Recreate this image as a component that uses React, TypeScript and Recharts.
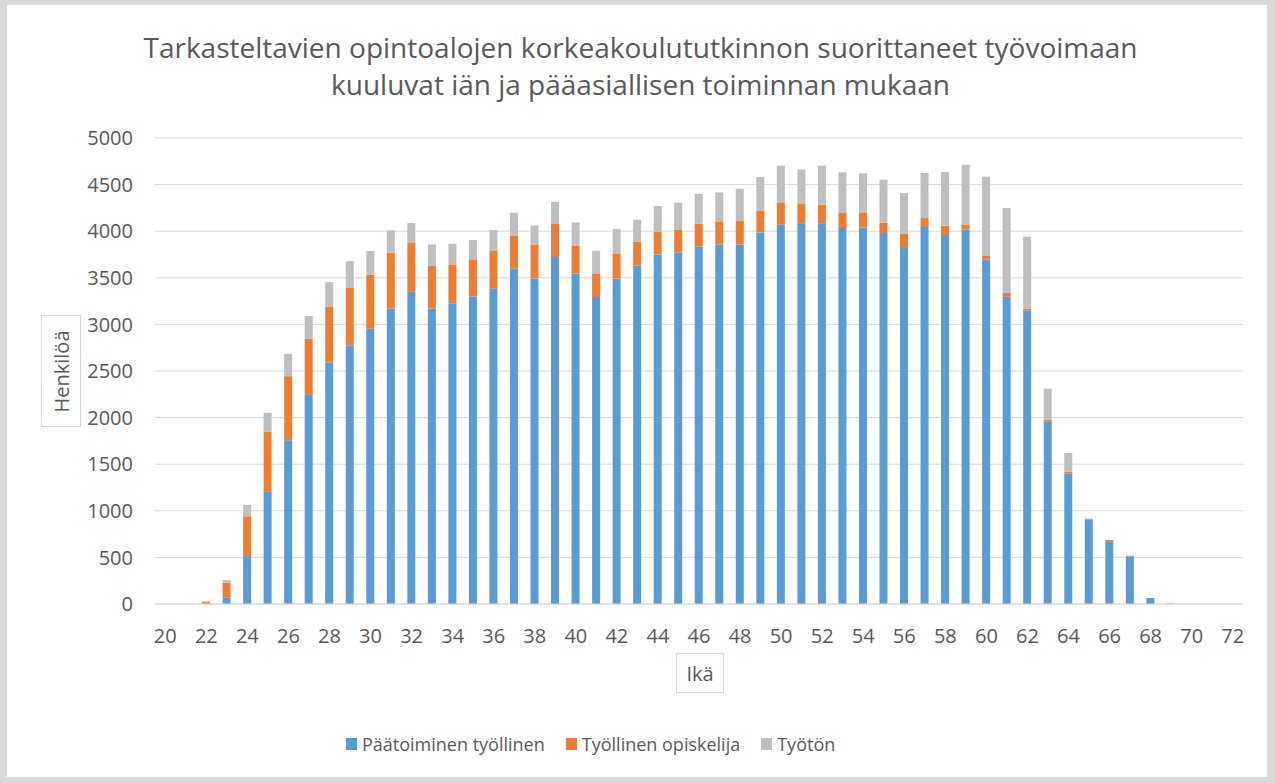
import React from "react";
import { BarChart, Bar, XAxis, YAxis, CartesianGrid } from "recharts";

const ages = [
  20, 21, 22, 23, 24, 25, 26, 27, 28, 29, 30, 31, 32, 33, 34, 35, 36, 37, 38, 39,
  40, 41, 42, 43, 44, 45, 46, 47, 48, 49, 50, 51, 52, 53, 54, 55, 56, 57, 58, 59,
  60, 61, 62, 63, 64, 65, 66, 67, 68, 69, 70, 71, 72,
];

// Päätoiminen työllinen
const fullTime = [
  0, 0, 0, 72, 515, 1203, 1757, 2244, 2591, 2777, 2953, 3171, 3350, 3171, 3228, 3300, 3382, 3600, 3493, 3722,
  3547, 3293, 3493, 3633, 3751, 3772, 3837, 3858, 3858, 3987, 4069, 4084, 4084, 4034, 4041, 3980, 3830, 4044, 3958, 4019,
  3697, 3296, 3146, 1961, 1399, 909, 673, 512, 64, 0, 0, 0, 0,
];

// Työllinen opiskelija
const student = [
  0, 0, 25, 157, 426, 647, 687, 605, 601, 619, 579, 598, 530, 462, 415, 397, 412, 355, 365, 362,
  300, 254, 268, 257, 243, 247, 243, 247, 258, 236, 240, 214, 200, 168, 161, 111, 146, 97, 101, 54,
  43, 47, 21, 18, 22, 4, 14, 3, 0, 0, 0, 0, 0,
];

// Työtön
const unemployed = [
  0, 0, 0, 29, 122, 201, 240, 240, 262, 283, 255, 239, 207, 225, 222, 208, 218, 243, 204, 232,
  247, 243, 262, 233, 276, 287, 322, 311, 340, 358, 394, 365, 419, 429, 418, 462, 433, 483, 576, 640,
  845, 905, 773, 333, 200, 3, 0, 4, 0, 12, 0, 0, 0,
];

const yTicks = [0, 500, 1000, 1500, 2000, 2500, 3000, 3500, 4000, 4500, 5000];

const series = [
  { key: "fullTime", name: "Päätoiminen työllinen", color: "#5B9BD5" },
  { key: "student", name: "Työllinen opiskelija", color: "#ED7D31" },
  { key: "unemployed", name: "Työtön", color: "#BFBFBF" },
];

const data = ages.map((age, i) => ({
  age,
  fullTime: fullTime[i],
  student: student[i],
  unemployed: unemployed[i],
}));

const font = "'Open Sans', sans-serif";
const textColor = "#595959";

export default function App() {
  return (
    <div
      style={{
        position: "fixed",
        top: 0,
        left: 0,
        width: 1275,
        height: 783,
        background: "#d9d9d9",
        fontFamily: font,
        color: textColor,
      }}
    >
      <div
        style={{
          position: "absolute",
          left: 7,
          top: 5,
          width: 1260,
          height: 772,
          background: "#fff",
        }}
      />
      <div
        style={{
          position: "absolute",
          left: 0,
          top: 29,
          width: 1281,
          textAlign: "center",
          fontSize: 28,
          lineHeight: "37px",
        }}
      >
        Tarkasteltavien opintoalojen korkeakoulututkinnon suorittaneet työvoimaan
        <br />
        kuuluvat iän ja pääasiallisen toiminnan mukaan
      </div>

      <div style={{ position: "absolute", left: 0, top: 0 }}>
        <BarChart
          width={1275}
          height={783}
          data={data}
          margin={{ top: 138, right: 32, bottom: 149, left: 80 }}
          barSize={8}
        >
          <CartesianGrid vertical={false} stroke="#d9d9d9" />
          <XAxis
            dataKey="age"
            interval={1}
            height={30}
            tickLine={false}
            tickSize={0}
            tickMargin={25}
            axisLine={{ stroke: "#d9d9d9" }}
            tick={{ fill: textColor, fontSize: 20, fontFamily: font }}
          />
          <YAxis
            width={75}
            domain={[0, 5000]}
            ticks={yTicks}
            tickLine={false}
            tickSize={0}
            tickMargin={22}
            axisLine={false}
            tick={{ fill: textColor, fontSize: 20, fontFamily: font }}
          />
          {series.map((s) => (
            <Bar
              key={s.key}
              dataKey={s.key}
              name={s.name}
              stackId="a"
              fill={s.color}
              isAnimationActive={false}
            />
          ))}
        </BarChart>
      </div>

      <div
        style={{
          position: "absolute",
          left: 41,
          top: 315,
          width: 40,
          height: 112,
          border: "1px solid #d9d9d9",
          background: "#fff",
          boxSizing: "border-box",
          display: "flex",
          alignItems: "center",
          justifyContent: "center",
        }}
      >
        <div style={{ transform: "rotate(-90deg)", fontSize: 20, whiteSpace: "nowrap" }}>
          Henkilöä
        </div>
      </div>

      <div
        style={{
          position: "absolute",
          left: 676,
          top: 653,
          width: 48,
          height: 40,
          border: "1px solid #d9d9d9",
          background: "#fff",
          boxSizing: "border-box",
          display: "flex",
          alignItems: "center",
          justifyContent: "center",
          fontSize: 20,
        }}
      >
        Ikä
      </div>

      <div
        style={{
          position: "absolute",
          left: 346,
          top: 732,
          display: "flex",
          alignItems: "center",
          fontSize: 18,
          whiteSpace: "nowrap",
        }}
      >
        {series.map((s) => (
          <div key={s.key} style={{ display: "flex", alignItems: "center", marginRight: 21 }}>
            <span
              style={{
                display: "inline-block",
                width: 11,
                height: 12,
                background: s.color,
                marginRight: 5,
              }}
            />
            <span>{s.name}</span>
          </div>
        ))}
      </div>
    </div>
  );
}
